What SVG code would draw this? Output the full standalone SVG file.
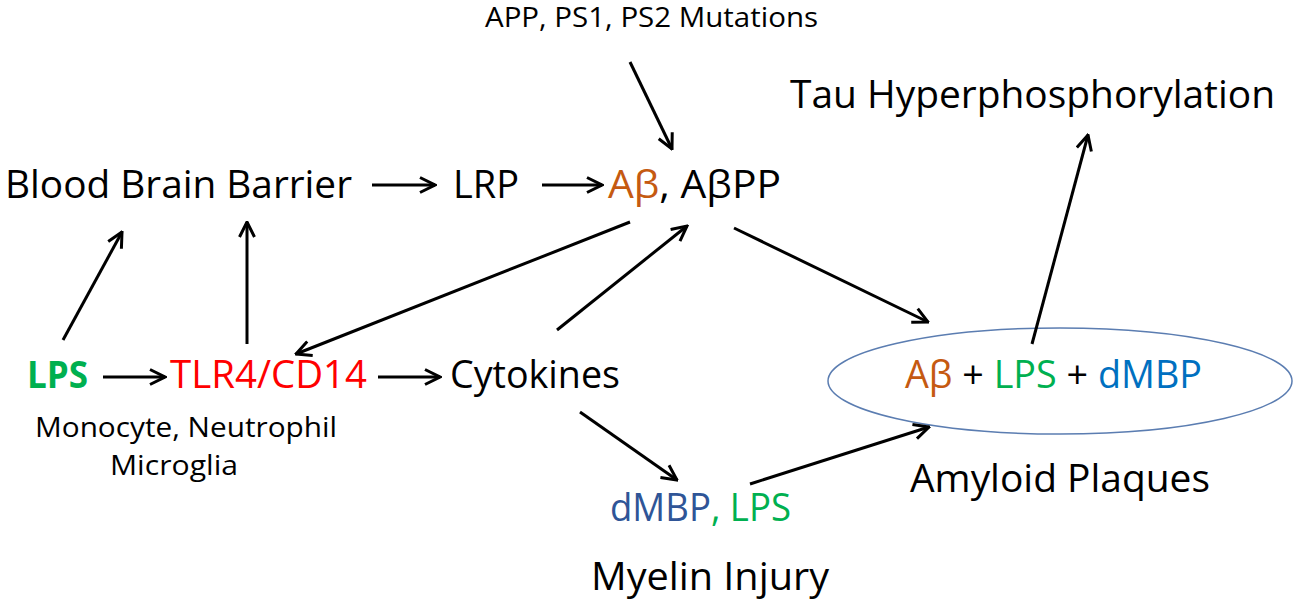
<svg xmlns="http://www.w3.org/2000/svg" width="1300" height="606" viewBox="0 0 1300 606">
<style>
text{font-family:"Open Sans","Liberation Sans",sans-serif;fill:#000}
.big{font-size:38px}
.small{font-size:27px}
.orange{fill:#C55A11}
.green{fill:#00B050}
.blue{fill:#0070C0}
.dblue{fill:#2F5597}
.red{fill:#FF0000}
.conn line{stroke:#000;stroke-width:3;marker-end:url(#ah)}
</style>
<defs>
<marker id="ah" viewBox="0 0 12 12" refX="11" refY="6" markerWidth="6" markerHeight="6" orient="auto" markerUnits="strokeWidth">
<path d="M1,1 L11,6 L1,11" fill="none" stroke="#000" stroke-width="2"/>
</marker>
</defs>
<rect width="1300" height="606" fill="#fff"/>
<g id="mutations"><text class="small" x="485" y="27" textLength="333" lengthAdjust="spacingAndGlyphs">APP, PS1, PS2 Mutations</text></g>
<g id="tau"><text class="big" x="790" y="108" textLength="485" lengthAdjust="spacingAndGlyphs">Tau Hyperphosphorylation</text></g>
<g id="bbb"><text class="big" x="5" y="198" textLength="347" lengthAdjust="spacingAndGlyphs">Blood Brain Barrier</text></g>
<g id="lrp"><text class="big" x="453" y="198" textLength="66" lengthAdjust="spacingAndGlyphs">LRP</text></g>
<g id="abeta"><text class="big" x="608" y="198" textLength="173" lengthAdjust="spacingAndGlyphs"><tspan class="orange">Aβ</tspan>, AβPP</text></g>
<g id="lps"><text class="big green" x="27" y="388" font-weight="bold" textLength="61" lengthAdjust="spacingAndGlyphs">LPS</text>
<text class="small" x="35" y="437" textLength="302" lengthAdjust="spacingAndGlyphs">Monocyte, Neutrophil</text>
<text class="small" x="110" y="475" textLength="128" lengthAdjust="spacingAndGlyphs">Microglia</text></g>
<g id="tlr4"><text class="big red" x="170" y="388" textLength="197" lengthAdjust="spacingAndGlyphs">TLR4/CD14</text></g>
<g id="cytokines"><text class="big" x="450" y="388" textLength="170" lengthAdjust="spacingAndGlyphs">Cytokines</text></g>
<g id="plaques"><ellipse cx="1060" cy="381" rx="232" ry="53" fill="none" stroke="#5B7DB1" stroke-width="1.5"/>
<text class="big" x="905" y="388" textLength="297" lengthAdjust="spacingAndGlyphs"><tspan class="orange">Aβ</tspan> + <tspan class="green">LPS</tspan> + <tspan class="blue">dMBP</tspan></text>
<text class="big" x="910" y="492" textLength="300" lengthAdjust="spacingAndGlyphs">Amyloid Plaques</text></g>
<g id="myelin"><text class="big" x="610" y="521" textLength="181" lengthAdjust="spacingAndGlyphs"><tspan class="dblue">dMBP</tspan><tspan class="green">, LPS</tspan></text>
<text class="big" x="591" y="590" textLength="238" lengthAdjust="spacingAndGlyphs">Myelin Injury</text></g>
<g id="connectors" class="conn">
<line x1="372" y1="185" x2="435" y2="185"/>
<line x1="542" y1="185" x2="602" y2="185"/>
<line x1="630" y1="62" x2="672" y2="149"/>
<line x1="63" y1="340" x2="122" y2="232"/>
<line x1="247" y1="344" x2="247" y2="222"/>
<line x1="630" y1="222" x2="296" y2="354"/>
<line x1="557" y1="330" x2="687" y2="226"/>
<line x1="734" y1="228" x2="928" y2="322"/>
<line x1="103" y1="377" x2="165" y2="377"/>
<line x1="378" y1="377" x2="440" y2="377"/>
<line x1="580" y1="412" x2="677" y2="480"/>
<line x1="750" y1="484" x2="929" y2="427"/>
<line x1="1032" y1="344" x2="1088" y2="135"/>
</g>
</svg>
